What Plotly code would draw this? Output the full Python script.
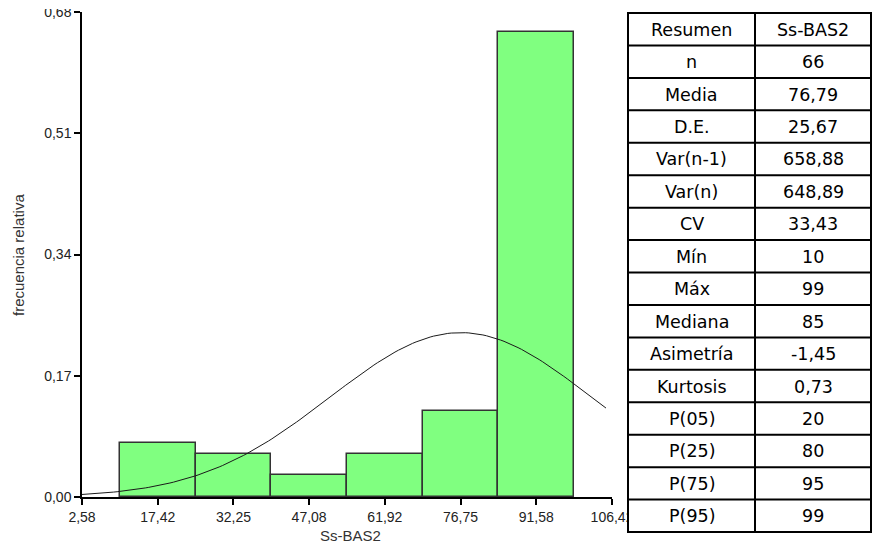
import numpy as np
import plotly.graph_objects as go

# ---------------- data ----------------
bin_centers = [17.42, 32.25, 47.08, 61.92, 76.75, 91.58]
bin_counts = [5, 4, 2, 4, 8, 43]
n_obs = 66
rel_freq = [c / n_obs for c in bin_counts]
bin_width = 14.83

x_tickvals = [2.58, 17.42, 32.25, 47.08, 61.92, 76.75, 91.58, 106.42]
y_tickvals = [0.00, 0.17, 0.34, 0.51, 0.68]

# summary table
stat_names = ["n", "Media", "D.E.", "Var(n-1)", "Var(n)", "CV", "Mín", "Máx",
              "Mediana", "Asimetría", "Kurtosis", "P(05)", "P(25)", "P(75)", "P(95)"]
stat_values = ["66", "76,79", "25,67", "658,88", "648,89", "33,43", "10", "99",
               "85", "-1,45", "0,73", "20", "80", "95", "99"]
table_header = ["Resumen", "Ss-BAS2"]

# normal fit from the table's mean and SD
mean_val = 76.79
sd_val = 25.67
curve_start, curve_end = 2.58, 105.24

# ---------------- figure ----------------
W, H = 875, 544


def px(x):
    return x / W


def py(y):
    return 1 - y / H


curve_x = np.linspace(curve_start, curve_end, 150)
curve_y = bin_width * np.exp(-0.5 * ((curve_x - mean_val) / sd_val) ** 2) / (sd_val * np.sqrt(2 * np.pi))

fig = go.Figure()
fig.add_trace(go.Bar(
    x=bin_centers, y=rel_freq, width=bin_width,
    marker=dict(color="#80FF80", line=dict(color="#333333", width=1.5)),
    showlegend=False, hoverinfo="x+y",
))
fig.add_trace(go.Scatter(
    x=curve_x, y=curve_y, mode="lines",
    line=dict(color="#1a1a1a", width=1),
    showlegend=False, hoverinfo="skip",
))

tick_font = dict(family="Liberation Sans, Arial, sans-serif", size=14, color="#222222")

fig.update_layout(
    template="none",
    width=W, height=H,
    margin=dict(l=0, r=0, t=0, b=0, pad=0, autoexpand=False),
    paper_bgcolor="white", plot_bgcolor="white",
    separators=",.",
    bargap=0,
    xaxis=dict(
        domain=[px(82), px(612)], range=[2.58, 106.42], automargin=False,
        tickmode="array", tickvals=x_tickvals, tickformat=".2f",
        ticks="outside", ticklen=6, tickwidth=1.5, tickcolor="black",
        showline=True, linecolor="black", linewidth=1.5,
        showgrid=False, zeroline=False, tickfont=tick_font,
    ),
    yaxis=dict(
        domain=[py(497), py(12)], range=[0, 0.68], automargin=False,
        tickmode="array", tickvals=y_tickvals, tickformat=".2f",
        ticks="outside", ticklen=6, tickwidth=1.5, tickcolor="black",
        showline=True, linecolor="black", linewidth=1.5,
        showgrid=False, zeroline=False, tickfont=tick_font,
    ),
)

annotations = [
    dict(text="frecuencia relativa", x=px(18), y=py(255), xref="paper", yref="paper",
         textangle=-90, showarrow=False, xanchor="center", yanchor="middle",
         font=dict(family="Liberation Sans, Arial, sans-serif", size=15, color="#333333")),
    dict(text="Ss-BAS2", x=px(350), y=py(535), xref="paper", yref="paper",
         showarrow=False, xanchor="center", yanchor="middle",
         font=dict(family="Liberation Sans, Arial, sans-serif", size=15, color="#333333")),
    # the reference screenshot is cropped through the top tick label
    dict(text=" ", x=px(38), y=1, xref="paper", yref="paper", xanchor="left", yanchor="top",
         showarrow=False, bgcolor="white", width=40, height=9, borderpad=0, borderwidth=0,
         font=dict(size=6)),
]

shapes = []

# table geometry
tx0, tx1, tx2 = 628, 755, 871
ty0, ty1 = 13, 532
rows = [table_header] + [[a, b] for a, b in zip(stat_names, stat_values)]
nrows = len(rows)
rh = (ty1 - ty0) / nrows

shapes.append(dict(type="rect", xref="paper", yref="paper", x0=px(tx0), x1=px(tx2),
                   y0=py(ty1), y1=py(ty0), fillcolor="white", line=dict(width=0), layer="above"))
for xv in (tx0, tx1, tx2):
    shapes.append(dict(type="line", xref="paper", yref="paper", x0=px(xv), x1=px(xv),
                       y0=py(ty0 - 1), y1=py(ty1 + 1), line=dict(color="black", width=2), layer="above"))
for i in range(nrows + 1):
    yv = ty0 + i * rh
    shapes.append(dict(type="line", xref="paper", yref="paper", x0=px(tx0), x1=px(tx2),
                       y0=py(yv), y1=py(yv), line=dict(color="black", width=2), layer="above"))

table_font = dict(family="DejaVu Sans, sans-serif", size=17.5, color="black")
for i, (a, b) in enumerate(rows):
    yc = ty0 + (i + 0.5) * rh + 0.5
    annotations.append(dict(text=a, x=px((tx0 + tx1) / 2), y=py(yc), xref="paper", yref="paper",
                            showarrow=False, xanchor="center", yanchor="middle", font=table_font))
    annotations.append(dict(text=b, x=px((tx1 + tx2) / 2), y=py(yc), xref="paper", yref="paper",
                            showarrow=False, xanchor="center", yanchor="middle", font=table_font))

fig.update_layout(annotations=annotations, shapes=shapes)

fig.write_html(
    "out.html",
    config={"displayModeBar": False},
    post_script="document.body.style.margin='0';document.body.style.padding='0';"
                "document.body.style.overflow='hidden';",
)
